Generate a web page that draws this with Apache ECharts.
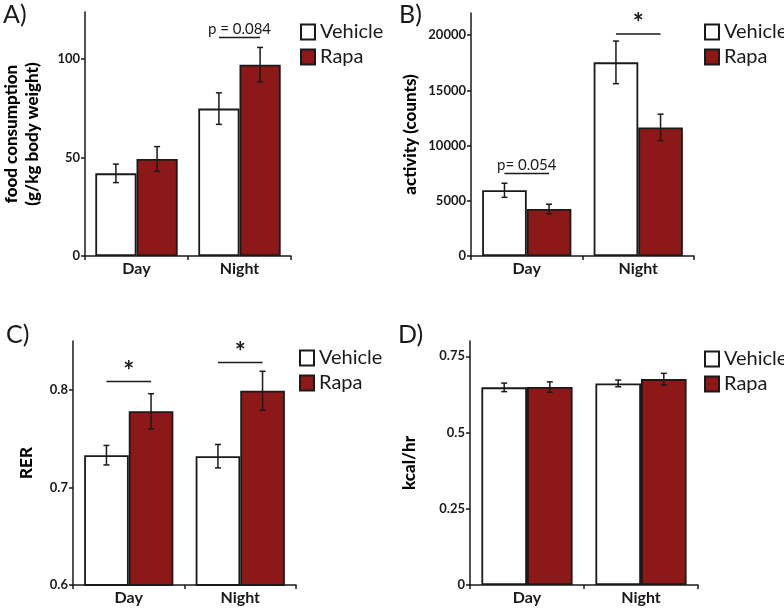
<!DOCTYPE html>
<html>
<head>
<meta charset="utf-8">
<script src="https://cdn.jsdelivr.net/npm/echarts@6/dist/echarts.min.js"></script>
<style>
  html, body { margin: 0; padding: 0; background: #fff; }
  #main { width: 784px; height: 608px; }
</style>
</head>
<body>
<div id="main"></div>
<script>
// categories and groups
var categories = ['Day', 'Night'];
var groupNames = ['Vehicle', 'Rapa'];

// A) food consumption (g/kg body weight)
var foodVehicle = [42, 74.9];
var foodVehicleErr = [4.7, 8];
var foodRapa = [49.3, 97.2];
var foodRapaErr = [6.3, 8.8];
var foodTicks = [0, 50, 100];
var foodSig = [[1, 111, 'p = 0.084']];

// B) activity (counts)
var actVehicle = [5950, 17530];
var actVehicleErr = [640, 1930];
var actRapa = [4260, 11640];
var actRapaErr = [430, 1200];
var actTicks = [0, 5000, 10000, 15000, 20000];
var actSig = [[0, 7460, 'p= 0.054'], [1, 20090, '*']];

// C) RER
var rerVehicle = [0.733, 0.732];
var rerVehicleErr = [0.010, 0.012];
var rerRapa = [0.778, 0.799];
var rerRapaErr = [0.018, 0.020];
var rerTicks = [0.6, 0.7, 0.8];
var rerSig = [[0, 0.8085, '*'], [1, 0.828, '*']];

// D) kcal/hr
var kcalVehicle = [0.648, 0.661];
var kcalVehicleErr = [0.014, 0.011];
var kcalRapa = [0.649, 0.675];
var kcalRapaErr = [0.017, 0.019];
var kcalTicks = [0, 0.25, 0.5, 0.75];

var FONT = 'Lato';
var RED = '#8c1818';
var INK = '#1a1a1a';

// panel layout (pixels)
var panels = [
  { label: 'A)', lx: 3, ly: 2, left: 73, top: 12, width: 218, height: 244, min: 0, max: 124,
    name: 'food consumption\n(g/kg body weight)', nameGap: 42,
    v: foodVehicle, ve: foodVehicleErr, r: foodRapa, re: foodRapaErr, ticks: foodTicks, sig: foodSig,
    legLeft: 295, legTop: 17 },
  { label: 'B)', lx: 399, ly: 2, left: 471, top: 13, width: 223, height: 243, min: 0, max: 22000,
    name: 'activity (counts)', nameGap: 50,
    v: actVehicle, ve: actVehicleErr, r: actRapa, re: actRapaErr, ticks: actTicks, sig: actSig,
    legLeft: 699, legTop: 17 },
  { label: 'C)', lx: 6, ly: 322, left: 73, top: 341, width: 223, height: 244, min: 0.6, max: 0.85,
    name: 'RER', nameGap: 36,
    v: rerVehicle, ve: rerVehicleErr, r: rerRapa, re: rerRapaErr, ticks: rerTicks, sig: rerSig,
    legLeft: 294, legTop: 343 },
  { label: 'D)', lx: 398, ly: 322, left: 470, top: 341, width: 228, height: 244, min: 0, max: 0.8,
    name: 'kcal/hr', nameGap: 50,
    v: kcalVehicle, ve: kcalVehicleErr, r: kcalRapa, re: kcalRapaErr, ticks: kcalTicks, sig: [],
    legLeft: 699, legTop: 344 }
];

// error bars drawn on the bar centres
function errorItem(params, api) {
  var cat = api.value(0);
  var mean = api.value(1);
  var err = api.value(2);
  var side = api.value(3);
  var bw = api.size([1, 0])[0];
  var cx = api.coord([cat, mean])[0] + side * bw * 0.2;
  var hi = api.coord([cat, mean + err])[1];
  var lo = api.coord([cat, mean - err])[1];
  var st = { stroke: INK, lineWidth: 1.5 };
  return {
    type: 'group',
    children: [
      { type: 'line', shape: { x1: cx, y1: hi, x2: cx, y2: lo }, style: st },
      { type: 'line', shape: { x1: cx - 3, y1: hi, x2: cx + 3, y2: hi }, style: st },
      { type: 'line', shape: { x1: cx - 3, y1: lo, x2: cx + 3, y2: lo }, style: st }
    ]
  };
}

// significance bracket between the two bars of a category
function sigItem(params, api) {
  var cat = api.value(0);
  var p = api.coord([cat, api.value(1)]);
  var bw = api.size([1, 0])[0];
  var txt = api.value(2);
  var star = txt === '*';
  return {
    type: 'group',
    children: [
      { type: 'line', shape: { x1: p[0] - bw * 0.2, y1: p[1], x2: p[0] + bw * 0.2, y2: p[1] },
        style: { stroke: INK, lineWidth: 1.5 } },
      { type: 'text', x: p[0], y: star ? p[1] + 3 : p[1] - 1,
        style: { text: txt, fill: INK, align: 'center', verticalAlign: 'bottom',
          font: (star ? 'bold 26px ' : '15px ') + FONT } }
    ]
  };
}

var option = {
  backgroundColor: '#fff',
  animation: false,
  title: [], grid: [], xAxis: [], yAxis: [], legend: [], series: []
};

panels.forEach(function (pn, i) {
  option.title.push({
    text: pn.label, left: pn.lx, top: pn.ly, padding: 0,
    textStyle: { fontFamily: FONT, fontSize: 25, fontWeight: 'normal', color: INK }
  });
  option.grid.push({ left: pn.left, top: pn.top, width: pn.width, height: pn.height });
  option.xAxis.push({
    type: 'category', gridIndex: i, data: categories,
    axisLine: { lineStyle: { color: INK, width: 1.5 } },
    axisTick: { show: true, alignWithLabel: false, length: 4, lineStyle: { color: INK, width: 1.5 } },
    axisLabel: { fontFamily: FONT, fontSize: 16, fontWeight: 'bold', color: INK, margin: 5 }
  });
  option.yAxis.push({
    type: 'value', gridIndex: i, min: pn.min, max: pn.max,
    name: pn.name, nameLocation: 'middle', nameGap: pn.nameGap, nameRotate: 90,
    nameTextStyle: { fontFamily: FONT, fontSize: 17, fontWeight: 900, color: '#000', lineHeight: 21 },
    axisLine: { show: true, lineStyle: { color: INK, width: 1.5 } },
    axisTick: { show: true, length: 4, customValues: pn.ticks, lineStyle: { color: INK, width: 1.5 } },
    axisLabel: { customValues: pn.ticks, fontFamily: FONT, fontSize: 13, fontWeight: 'bold', color: INK, margin: 5,
      formatter: function (v) { return String(v); } },
    splitLine: { show: false }
  });
  option.legend.push({
    data: groupNames, left: pn.legLeft, top: pn.legTop, orient: 'vertical',
    selectedMode: false, itemWidth: 14, itemHeight: 15, itemGap: 5, icon: 'rect',
    textStyle: { fontFamily: FONT, fontSize: 20, color: INK, lineHeight: 20 }
  });
  option.series.push({
    name: groupNames[0], type: 'bar', xAxisIndex: i, yAxisIndex: i, data: pn.v,
    barGap: '0%', barCategoryGap: '20%',
    itemStyle: { color: '#fff', borderColor: INK, borderWidth: 1.8 }
  });
  option.series.push({
    name: groupNames[1], type: 'bar', xAxisIndex: i, yAxisIndex: i, data: pn.r,
    barGap: '0%', barCategoryGap: '20%',
    itemStyle: { color: RED, borderColor: INK, borderWidth: 1.8 }
  });
  var errs = [];
  for (var k = 0; k < categories.length; k++) {
    errs.push([k, pn.v[k], pn.ve[k], -1]);
    errs.push([k, pn.r[k], pn.re[k], 1]);
  }
  option.series.push({
    type: 'custom', xAxisIndex: i, yAxisIndex: i, data: errs, renderItem: errorItem, z: 5
  });
  if (pn.sig.length) {
    option.series.push({
      type: 'custom', xAxisIndex: i, yAxisIndex: i, data: pn.sig, renderItem: sigItem, z: 5,
      dimensions: ['cat', 'y', { name: 'txt', type: 'ordinal' }]
    });
  }
});

var chart = echarts.init(document.getElementById('main'));
chart.setOption(option);
</script>
</body>
</html>
